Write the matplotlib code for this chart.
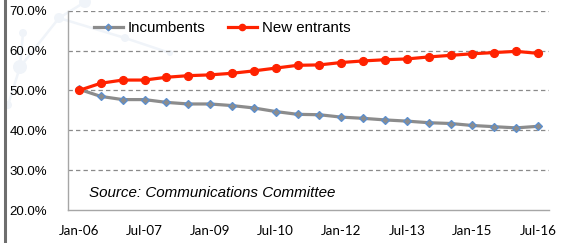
import matplotlib
matplotlib.use("Agg")
import matplotlib.pyplot as plt

categories = ["Jan-06", "Jul-06", "Jan-07", "Jul-07", "Jan-08", "Jul-08", "Jan-09", "Jul-09",
              "Jan-10", "Jul-10", "Jan-11", "Jul-11", "Jan-12", "Jul-12", "Jan-13", "Jul-13",
              "Jan-14", "Jul-14", "Jan-15", "Jul-15", "Jan-16", "Jul-16"]
incumbents = [50.3, 48.5, 47.7, 47.7, 47.0, 46.6, 46.6, 46.2, 45.6, 44.7, 44.0, 43.9,
              43.3, 43.0, 42.6, 42.3, 41.9, 41.7, 41.2, 40.9, 40.6, 41.0]
new_entrants = [50.0, 51.8, 52.6, 52.6, 53.3, 53.7, 53.9, 54.3, 54.9, 55.6, 56.3, 56.4,
                57.0, 57.4, 57.7, 57.9, 58.4, 58.8, 59.2, 59.5, 59.8, 59.3]
y_ticks = [20, 30, 40, 50, 60, 70]
tick_every = 3
source_text = "Source: Communications Committee"

W, H = 563, 243
fig = plt.figure(figsize=(W / 100, H / 100), dpi=100)
fig.patch.set_facecolor("white")

# faint decorative background network (pixel coordinates)
bg = fig.add_axes([0, 0, 1, 1], zorder=0)
bg.set_xlim(0, W)
bg.set_ylim(H, 0)
bg.axis("off")
bg_col = "#f0f4f9"
nodes = [(20, 67), (59, 18), (85, 2), (23, 33), (125, 38), (170, 53), (8, 105)]
sizes = [7, 5, 6, 4, 4, 3, 4]
for a, b in [(0, 1), (1, 2), (0, 3), (1, 4), (4, 5), (0, 6)]:
    (x1, y1), (x2, y2) = nodes[a], nodes[b]
    bg.plot([x1, x2], [y1, y2], color=bg_col, lw=1.8, zorder=0)
for (px, py), r in zip(nodes, sizes):
    bg.add_patch(plt.Circle((px, py), r, facecolor=bg_col, edgecolor="none", zorder=0))
bg.plot([4.5, 4.5], [0, H], color="#6e6e6e", lw=2.2, zorder=1)

ax = fig.add_axes([68 / W, 1 - 210 / H, (549 - 68) / W, (210 - 10.7) / H], zorder=2)
ax.patch.set_alpha(0)

x = list(range(len(categories)))
ax.plot(x, incumbents, color="#8c8c8c", lw=2.3, marker="D", ms=4.3,
        markerfacecolor="#8c8c8c", markeredgecolor="#5b8fd0", markeredgewidth=0.9,
        label="Incumbents", zorder=3)
ax.plot(x, new_entrants, color="#ff2200", lw=2.3, marker="o", ms=5.6,
        markerfacecolor="#ff2200", markeredgecolor="#ff2200",
        label="New entrants", zorder=4)

ax.set_xlim(-0.5, len(categories) - 0.5)
ax.set_ylim(20, 70)
ax.set_yticks(y_ticks)
ax.set_yticklabels([f"{v:.1f}%" for v in y_ticks], fontsize=9.5, family="Liberation Sans")
ax.set_xticks(x[::tick_every])
ax.set_xticklabels(categories[::tick_every], fontsize=9.6, family="Lato")
ax.tick_params(axis="y", length=0, pad=15)
ax.tick_params(axis="x", length=0, pad=11)

for v in y_ticks[1:]:
    ax.axhline(v, color="#8a8a8a", lw=0.9, ls=(0, (3.5, 2.5)), zorder=1)

for s in ["top", "right"]:
    ax.spines[s].set_visible(False)
for s in ["left", "bottom"]:
    ax.spines[s].set_color("#a6a6a6")
    ax.spines[s].set_linewidth(1.0)

leg = ax.legend(loc="center left", bbox_to_anchor=(26 / 481, (210 - 28) / 199.3), ncol=2,
                frameon=False, prop={"family": "Liberation Sans", "size": 10.8},
                handlelength=1.9, handletextpad=0.35, columnspacing=1.5,
                markerscale=0.8, borderpad=0, borderaxespad=0)

ax.text(0.044, 0.085, source_text, transform=ax.transAxes, fontsize=10.9,
        style="italic", family="Liberation Sans", color="black", va="center")

fig.savefig("out.png", dpi=100)
